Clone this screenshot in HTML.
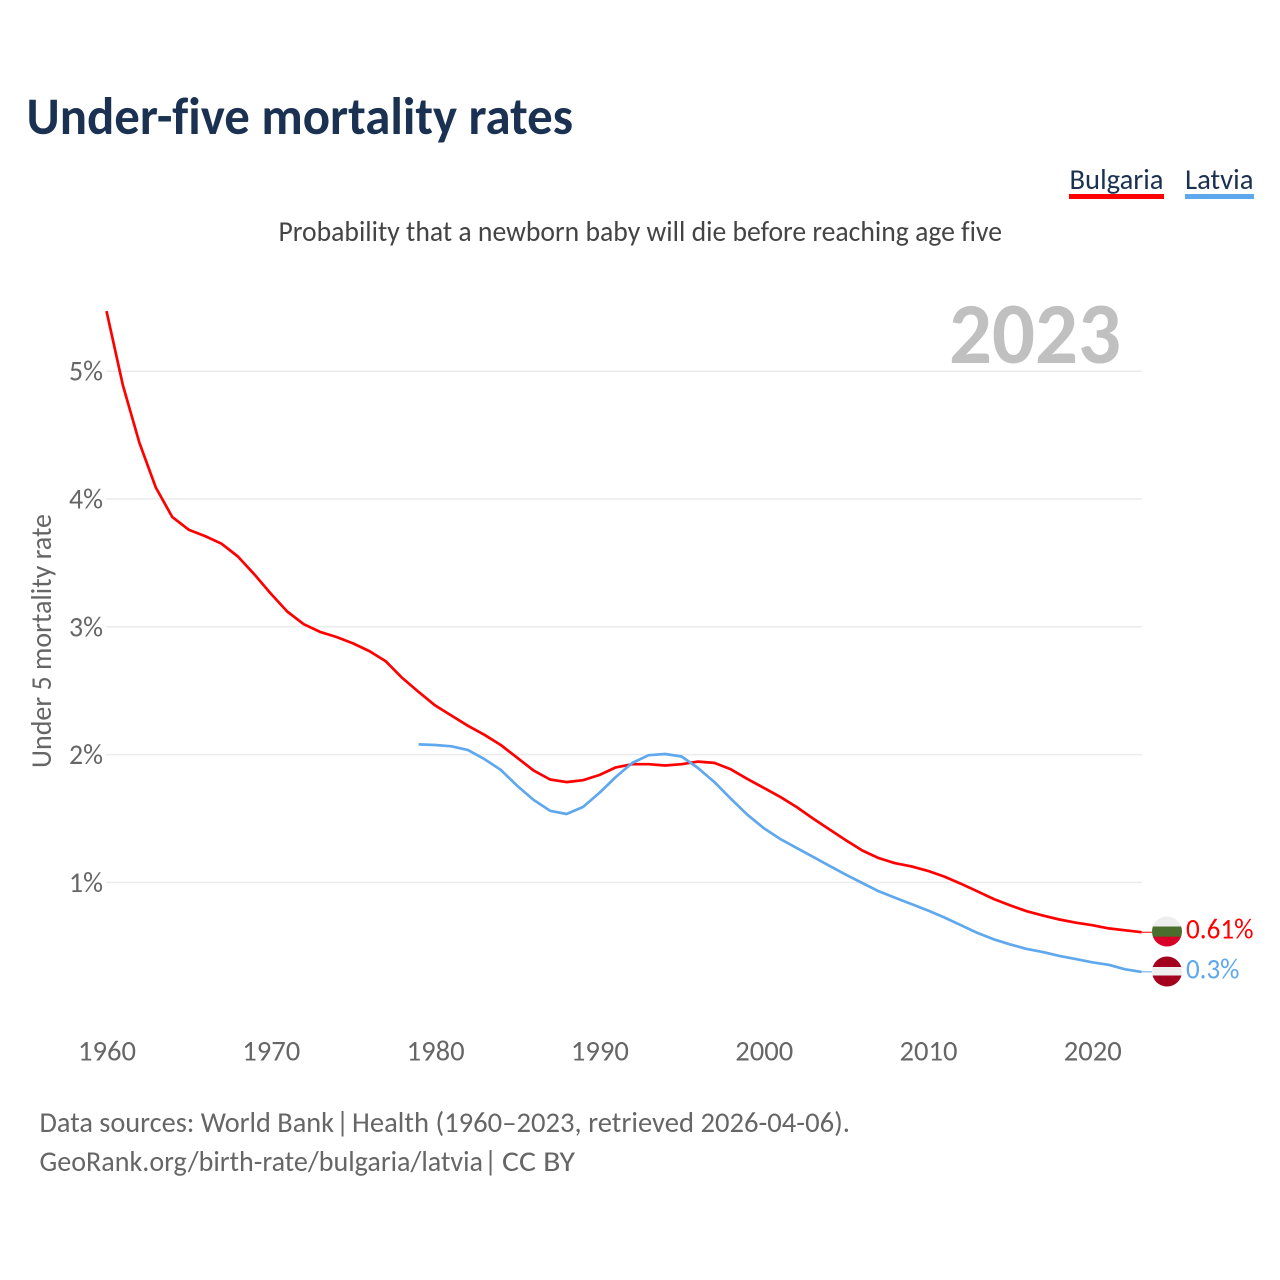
<!DOCTYPE html>
<html lang="en">
<head>
<meta charset="utf-8">
<title>Under-five mortality rates</title>
<style>
  html, body { margin: 0; padding: 0; background: #fff; }
  svg { display: block; }
  text { font-family: "Carlito", "Lato", "Liberation Sans", sans-serif; font-variant-ligatures: none; }
</style>
</head>
<body>
<svg id="chart" xmlns="http://www.w3.org/2000/svg" width="1280" height="1280" viewBox="0 0 1280 1280">
  <defs>
    <clipPath id="clip-bg"><circle cx="1167" cy="931.5" r="15"></circle></clipPath>
    <clipPath id="clip-lv"><circle cx="1167" cy="971.5" r="15"></circle></clipPath>
  </defs>
  <rect width="1280" height="1280" fill="#fff"></rect>

  <text x="26.5" y="134" font-size="53" font-weight="700" fill="#1a3152" textLength="546.5" lengthAdjust="spacingAndGlyphs">Under-five mortality rates</text>

  <g>
    <text x="1069.5" y="189" font-size="28.5" fill="#1a3152" textLength="94" lengthAdjust="spacingAndGlyphs">Bulgaria</text>
    <rect x="1069" y="194" width="95" height="5" fill="#ff0000"></rect>
  </g>
  <g>
    <text x="1185" y="189" font-size="28.5" fill="#1a3152" textLength="68.5" lengthAdjust="spacingAndGlyphs">Latvia</text>
    <rect x="1185" y="194" width="69" height="5" fill="#5fa8ee"></rect>
  </g>

  <text x="278.5" y="241" font-size="28.5" fill="#444444" textLength="723.5" lengthAdjust="spacingAndGlyphs">Probability that a newborn baby will die before reaching age five</text>

  <text x="949" y="363" font-size="87" font-weight="700" fill="#c0c0c0" textLength="172" lengthAdjust="spacingAndGlyphs">2023</text>

  <text transform="translate(51 641) rotate(-90)" text-anchor="middle" font-size="28.5" fill="#666666" textLength="254" lengthAdjust="spacingAndGlyphs">Under 5 mortality rate</text>

  <g id="grid"></g>
  <g id="y-ticks"></g>
  <g id="x-ticks"></g>
  <g id="series"></g>

  <g clip-path="url(#clip-bg)">
    <rect x="1152" y="916" width="30" height="11" fill="#eeeeee"></rect>
    <rect x="1152" y="926.5" width="30" height="10.5" fill="#496e2d"></rect>
    <rect x="1152" y="936.7" width="30" height="11" fill="#d80027"></rect>
  </g>
  <g clip-path="url(#clip-lv)">
    <rect x="1152" y="956" width="30" height="11.5" fill="#a2001d"></rect>
    <rect x="1152" y="967" width="30" height="8.7" fill="#eeeeee"></rect>
    <rect x="1152" y="975.5" width="30" height="12" fill="#a2001d"></rect>
  </g>

  <text id="value-bulgaria" x="1186" y="938.5" font-size="28.5" fill="#ff0000" textLength="67.5" lengthAdjust="spacingAndGlyphs"></text>
  <text id="value-latvia" x="1186" y="978.5" font-size="28.5" fill="#5fa8ee" textLength="53.5" lengthAdjust="spacingAndGlyphs"></text>

  <g font-size="28.5" fill="#666666">
    <text x="39.5" y="1132" textLength="294.5" lengthAdjust="spacingAndGlyphs">Data sources: World Bank</text>
    <text x="336" y="1132">|</text>
    <text x="352" y="1132" textLength="498" lengthAdjust="spacingAndGlyphs">Health (1960–2023, retrieved 2026-04-06).</text>
  </g>
  <g font-size="28.5" fill="#666666">
    <text x="39.5" y="1171" textLength="443.5" lengthAdjust="spacingAndGlyphs">GeoRank.org/birth-rate/bulgaria/latvia</text>
    <text x="484" y="1171">|</text>
    <text x="502" y="1171" textLength="73" lengthAdjust="spacingAndGlyphs">CC BY</text>
  </g>
</svg>
<script>
const bulgariaStartYear = 1960;
const bulgariaValues = [
  5.47, 4.89, 4.44, 4.09, 3.86, 3.76, 3.71, 3.65, 3.55, 3.41,
  3.26, 3.12, 3.02, 2.96, 2.92, 2.87, 2.81, 2.73, 2.60, 2.49,
  2.385, 2.305, 2.225, 2.155, 2.075, 1.975, 1.875, 1.805, 1.785, 1.80,
  1.84, 1.90, 1.925, 1.925, 1.915, 1.925, 1.945, 1.935, 1.885, 1.81,
  1.74, 1.67, 1.59, 1.50, 1.415, 1.33, 1.25, 1.19, 1.15, 1.125,
  1.09, 1.045, 0.99, 0.93, 0.87, 0.82, 0.775, 0.74, 0.71, 0.685,
  0.665, 0.64, 0.625, 0.61
];
const latviaStartYear = 1979;
const latviaValues = [
  2.08, 2.075, 2.065, 2.035, 1.965, 1.88, 1.755, 1.645, 1.56, 1.535, 1.59,
  1.70, 1.825, 1.935, 1.995, 2.005, 1.985, 1.895, 1.785, 1.655, 1.53,
  1.425, 1.34, 1.27, 1.20, 1.13, 1.06, 0.995, 0.93, 0.88, 0.83,
  0.78, 0.725, 0.665, 0.605, 0.555, 0.515, 0.48, 0.455, 0.425, 0.40,
  0.375, 0.355, 0.32, 0.30
];
const yTickValues = [1, 2, 3, 4, 5];
const xTickYears = [1960, 1970, 1980, 1990, 2000, 2010, 2020];

const NS = 'http://www.w3.org/2000/svg';
const xScale = function (year) { return 106.5 + (year - 1960) * (1141.6 - 106.5) / 63; };
const yScale = function (value) { return 1010.2 - value * 127.8; };

function make(tag, parent, attrs) {
  const el = document.createElementNS(NS, tag);
  for (const key in attrs) el.setAttribute(key, attrs[key]);
  parent.appendChild(el);
  return el;
}

const gridGroup = document.getElementById('grid');
const yGroup = document.getElementById('y-ticks');
yTickValues.forEach(function (v) {
  const line = make('line', gridGroup, { x1: 106, x2: 1142, y1: yScale(v), y2: yScale(v), stroke: '#ebebeb', 'stroke-width': 1.5 });
  
  
  const label = make('text', yGroup, { x: 103, y: yScale(v) + 9.5, 'text-anchor': 'end', 'font-size': 28.5, fill: '#666666', textLength: 34, lengthAdjust: 'spacingAndGlyphs' });
  label.textContent = v + '%';
  
  
});

const xGroup = document.getElementById('x-ticks');
xTickYears.forEach(function (year) {
  const label = make('text', xGroup, { x: xScale(year) + 0.5, y: 1060.5, 'text-anchor': 'middle', 'font-size': 28.5, fill: '#666666', textLength: 58, lengthAdjust: 'spacingAndGlyphs' });
  label.textContent = String(year);
  
  
});

function linePoints(startYear, values) {
  return values.map(function (v, i) {
    return xScale(startYear + i).toFixed(1) + ',' + yScale(v).toFixed(1);
  }).join(' ');
}

const seriesGroup = document.getElementById('series');

const bulgariaLine = make('polyline', seriesGroup, { points: linePoints(bulgariaStartYear, bulgariaValues), fill: 'none', stroke: '#ff0000', 'stroke-width': 2.7, 'stroke-linejoin': 'round' });



const latviaLine = make('polyline', seriesGroup, { points: linePoints(latviaStartYear, latviaValues), fill: 'none', stroke: '#5fa8ee', 'stroke-width': 2.7, 'stroke-linejoin': 'round' });



const lastBulgaria = bulgariaValues[bulgariaValues.length - 1];
const lastLatvia = latviaValues[latviaValues.length - 1];

const bulgariaLeader = make('line', seriesGroup, { x1: 1141.6, x2: 1152, y1: yScale(lastBulgaria), y2: yScale(lastBulgaria), stroke: '#ff0000', 'stroke-width': 1 });



const latviaLeader = make('line', seriesGroup, { x1: 1141.6, x2: 1152, y1: yScale(lastLatvia), y2: yScale(lastLatvia), stroke: '#5fa8ee', 'stroke-width': 1 });



document.getElementById('value-bulgaria').textContent = lastBulgaria + '%';
document.getElementById('value-latvia').textContent = lastLatvia + '%';
</script>
</body>
</html>
